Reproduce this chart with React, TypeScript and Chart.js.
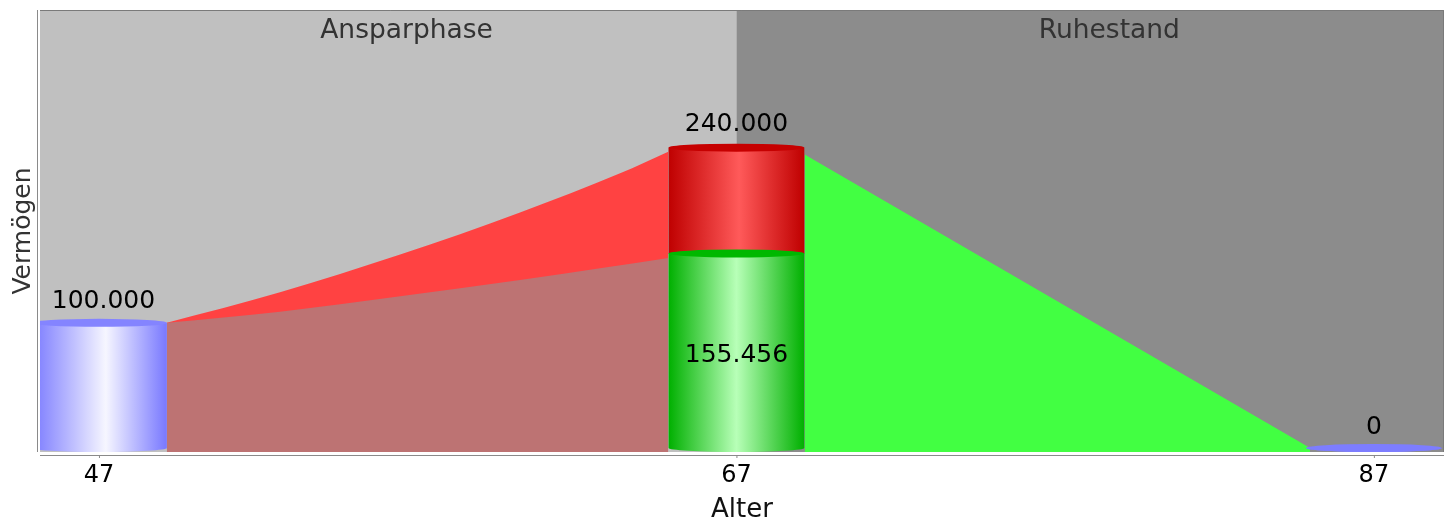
import React, { useEffect, useRef } from 'react';
import { Chart, registerables } from 'chart.js';

Chart.register(...registerables);

// ---- data ----
const tickAges = [47, 67, 87];
const startAge = [47];
const retirementAge = [67];
const endAge = [87];
const phaseNames = ['Ansparphase', 'Ruhestand'];
const phaseTitleAges = [56.65, 78.7];
const ageRange = [45.15, 89.2];
const valueRange = [-3200, 350000];

const startCapital = [100000];
const retirementTarget = [240000];
const retirementCovered = [155456];
const endCapital = [0];
const cylinderLabels = ['100.000', '240.000', '155.456', '0'];

const targetCurveAges = [49.13, 52.68, 56.45, 60.21, 63.35, 64.86];
const targetCurveValues = [100000, 124500, 154550, 188190, 219510, 236770];
const coveredCurveAges = [49.13, 52.68, 56.45, 60.21, 62.72, 64.86];
const coveredCurveValues = [100000, 108900, 121200, 134250, 143600, 151800];
const drawdownAges = [69.14, 85.0];
const drawdownValues = [234500, 0];

// ---- styling ----
const FONT = '"DejaVu Sans", "Liberation Sans", sans-serif';
const CYL_HALF = 2.13; // half width in years
const RY = 4;

function toPoints(xs: number[], ys: number[]) {
  return xs.map((x, i) => ({ x, y: ys[i] }));
}

function drawCylinder(
  ctx: CanvasRenderingContext2D,
  x0: number, x1: number, yTop: number, yBot: number,
  edge: string, light: string, topColor: string, hl: number,
) {
  const cx = (x0 + x1) / 2;
  const rx = (x1 - x0) / 2;
  const g = ctx.createLinearGradient(x0, 0, x1, 0);
  g.addColorStop(0, edge);
  g.addColorStop(hl, light);
  g.addColorStop(1, edge);
  ctx.fillStyle = g;
  ctx.beginPath();
  ctx.moveTo(x0, yTop);
  ctx.lineTo(x0, yBot);
  ctx.ellipse(cx, yBot, rx, RY, 0, Math.PI, 0, true);
  ctx.lineTo(x1, yTop);
  ctx.closePath();
  ctx.fill();
  ctx.fillStyle = topColor;
  ctx.beginPath();
  ctx.ellipse(cx, yTop, rx, RY, 0, 0, Math.PI * 2);
  ctx.fill();
}

const decoPlugin = {
  id: 'deco',
  beforeDatasetsDraw(chart: any) {
    const { ctx, chartArea: a, scales } = chart;
    const x = scales.x;
    const xr = x.getPixelForValue(retirementAge[0]);
    ctx.save();
    ctx.fillStyle = '#c0c0c0';
    ctx.fillRect(a.left, a.top, xr - a.left, a.bottom - a.top);
    ctx.fillStyle = '#8c8c8c';
    ctx.fillRect(xr, a.top, a.right - xr, a.bottom - a.top);
    ctx.font = `26.5px ${FONT}`;
    ctx.fillStyle = '#333333';
    ctx.textAlign = 'center';
    ctx.textBaseline = 'middle';
    ctx.fillText(phaseNames[0], x.getPixelForValue(phaseTitleAges[0]), a.top + 21);
    ctx.fillText(phaseNames[1], x.getPixelForValue(phaseTitleAges[1]), a.top + 21);
    ctx.restore();
  },
  afterDatasetsDraw(chart: any) {
    const { ctx, chartArea: a, scales } = chart;
    const x = scales.x;
    const y = scales.y;
    const px = (v: number) => x.getPixelForValue(v);
    const py = (v: number) => y.getPixelForValue(v);
    ctx.save();
    ctx.beginPath();
    ctx.rect(a.left, a.top, a.right - a.left, a.bottom - a.top);
    ctx.clip();

    // start cylinder
    drawCylinder(ctx, px(startAge[0] - CYL_HALF), px(startAge[0] + CYL_HALF),
      py(startCapital[0]), py(0), '#7878ff', '#f6f6ff', '#8484ff', 0.55);
    // retirement: target (red) on top of covered (green)
    drawCylinder(ctx, px(retirementAge[0] - CYL_HALF), px(retirementAge[0] + CYL_HALF),
      py(retirementTarget[0]), py(retirementCovered[0]), '#bf0000', '#ff5a5a', '#c60000', 0.52);
    drawCylinder(ctx, px(retirementAge[0] - CYL_HALF), px(retirementAge[0] + CYL_HALF),
      py(retirementCovered[0]), py(0), '#00b000', '#b8ffb8', '#00b800', 0.5);
    // end cylinder (flat)
    drawCylinder(ctx, px(endAge[0] - CYL_HALF), px(endAge[0] + CYL_HALF),
      py(endCapital[0]), py(0), '#7b7bff', '#9090ff', '#7d7dff', 0.5);
    ctx.restore();

    // value labels
    ctx.save();
    ctx.font = `25px ${FONT}`;
    ctx.fillStyle = '#000000';
    ctx.textAlign = 'center';
    ctx.textBaseline = 'middle';
    const visCenter = (c: number) => {
      const l = Math.max(a.left, px(c - CYL_HALF));
      const r = Math.min(a.right, px(c + CYL_HALF));
      return (l + r) / 2;
    };
    ctx.fillText(cylinderLabels[0], visCenter(startAge[0]), py(startCapital[0]) - 21);
    ctx.fillText(cylinderLabels[1], visCenter(retirementAge[0]), py(retirementTarget[0]) - 23);
    ctx.fillText(cylinderLabels[2], visCenter(retirementAge[0]), (py(retirementCovered[0]) + py(0)) / 2 + 5);
    ctx.fillText(cylinderLabels[3], visCenter(endAge[0]), py(endCapital[0]) - 20);
    ctx.restore();

    // outline + axis lines
    ctx.save();
    ctx.strokeStyle = '#7a7a7a';
    ctx.lineWidth = 1;
    ctx.beginPath();
    ctx.moveTo(a.left, a.top + 0.5);
    ctx.lineTo(a.right - 0.5, a.top + 0.5);
    ctx.lineTo(a.right - 0.5, a.bottom);
    ctx.stroke();
    ctx.strokeStyle = '#8a8a8a';
    ctx.beginPath();
    ctx.moveTo(a.left - 2.5, a.top);
    ctx.lineTo(a.left - 2.5, a.bottom);
    ctx.moveTo(a.left, a.bottom + 3.5);
    ctx.lineTo(a.right, a.bottom + 3.5);
    for (const t of tickAges) {
      ctx.moveTo(px(t) + 0.5, a.bottom + 3.5);
      ctx.lineTo(px(t) + 0.5, a.bottom + 6);
    }
    ctx.stroke();
    ctx.restore();
  },
};

export default function App() {
  const ref = useRef<HTMLCanvasElement | null>(null);
  useEffect(() => {
    if (!ref.current) return;
    const chart = new Chart(ref.current, {
      type: 'line',
      data: {
        datasets: [
          {
            label: 'gedeckt',
            data: toPoints(coveredCurveAges, coveredCurveValues),
            backgroundColor: '#bd7373',
            borderWidth: 0,
            pointRadius: 0,
            fill: 'start',
            cubicInterpolationMode: 'monotone',
          },
          {
            label: 'Ziel',
            data: toPoints(targetCurveAges, targetCurveValues),
            backgroundColor: '#ff4242',
            borderWidth: 0,
            pointRadius: 0,
            fill: 'start',
            cubicInterpolationMode: 'monotone',
          },
          {
            label: 'Entnahme',
            data: toPoints(drawdownAges, drawdownValues),
            backgroundColor: '#42ff42',
            borderWidth: 0,
            pointRadius: 0,
            fill: 'start',
          },
        ],
      } as any,
      options: {
        animation: false,
        responsive: true,
        maintainAspectRatio: false,
        layout: { padding: { top: 10, right: 6, left: 0, bottom: 0 } },
        plugins: {
          legend: { display: false },
          tooltip: { enabled: false },
        },
        scales: {
          x: {
            type: 'linear',
            min: ageRange[0],
            max: ageRange[1],
            grid: { display: false, drawTicks: false },
            border: { display: false },
            afterBuildTicks: (s: any) => {
              s.ticks = tickAges.map((v) => ({ value: v }));
            },
            afterFit: (s: any) => {
              s.height = 69;
            },
            ticks: {
              autoSkip: false,
              maxRotation: 0,
              padding: 9,
              color: '#000000',
              font: { family: FONT, size: 24 },
              callback: (v: any) => String(v),
            },
            title: {
              display: true,
              text: 'Alter',
              color: '#111111',
              font: { family: FONT, size: 26, lineHeight: 1 },
              padding: { top: 0, bottom: -2 },
            },
          },
          y: {
            type: 'linear',
            min: valueRange[0],
            max: valueRange[1],
            grid: { display: false, drawTicks: false },
            border: { display: false },
            ticks: { display: false },
            afterFit: (s: any) => {
              s.width = 40;
            },
            title: {
              display: true,
              text: 'Vermögen',
              color: '#333333',
              font: { family: FONT, size: 25, lineHeight: 1 },
              padding: { top: 11, bottom: 0 },
            },
          },
        },
      } as any,
      plugins: [decoPlugin],
    });
    return () => chart.destroy();
  }, []);
  return (
    <div style={{ position: 'fixed', left: 0, top: 0, width: 1450, height: 521, background: '#ffffff' }}>
      <canvas ref={ref} />
    </div>
  );
}
